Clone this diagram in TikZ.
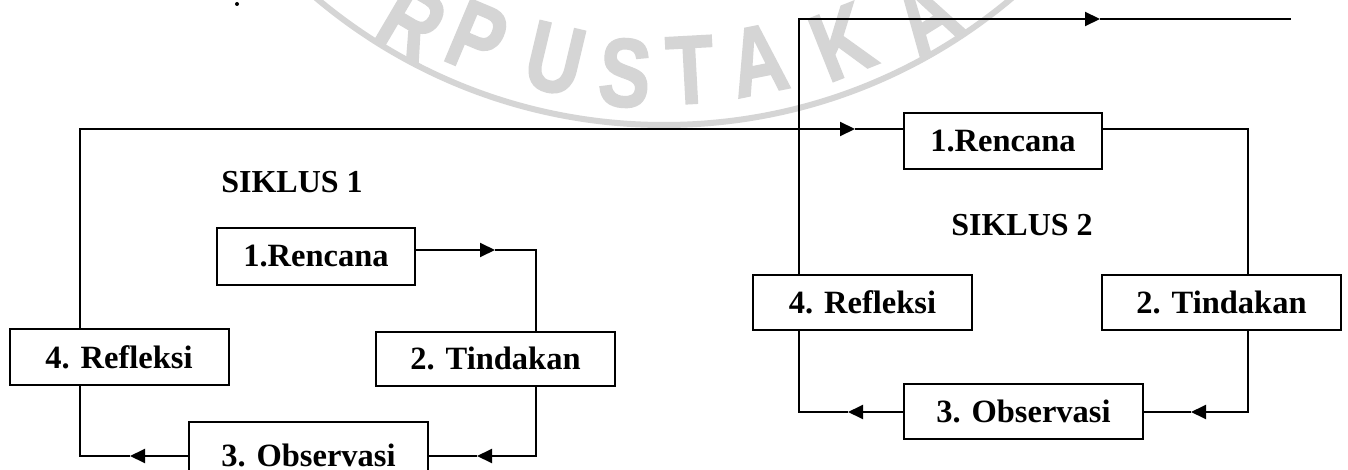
\documentclass[tikz,border=0pt]{standalone}
\usepackage{fontspec}
\setmainfont{Liberation Serif}
\newfontfamily\wmfont{Liberation Sans}[BoldFeatures={FakeBold=2}]
\usetikzlibrary{arrows.meta}
\definecolor{wmgray}{RGB}{213,213,213}
\begin{document}
\begin{tikzpicture}[x=1pt,y=-1pt,
  box/.style={draw, line width=2pt, inner sep=0pt, font=\fontsize{32.5}{36}\selectfont\bfseries},
  conn/.style={line width=2pt},
  arr/.style={line width=2pt, -{Triangle[length=15pt,width=14pt]}},
  lbl/.style={font=\fontsize{32}{36}\selectfont\bfseries, inner sep=0pt},
  wm/.style={text=wmgray, font=\wmfont\bfseries\fontsize{97}{100}\selectfont, inner sep=0pt}]
\clip (0,0) rectangle (1348,470);
\fill[white] (0,0) rectangle (1348,470);
% watermark stamp
\draw[wmgray, line width=6pt] (664,-415) circle[radius=540pt];
\node[wm, rotate=-30.5] (wR) at (412,22) {\scalebox{0.8}[1]{R}};
\node[wm, rotate=-22.8] (wP) at (477,38) {\scalebox{0.8}[1]{P}};
\node[wm, rotate=-13.4] (wU) at (555,59) {\scalebox{0.8}[1]{U}};
\node[wm, rotate=-4.6] (wS) at (625,73) {\scalebox{0.8}[1]{S}};
\node[wm, rotate=3.1] (wT) at (690,70) {\scalebox{0.8}[1]{T}};
\node[wm, rotate=11.4] (wA) at (758,60) {\scalebox{0.8}[1]{A}};
\node[wm, rotate=21.7] (wK) at (842,42) {\scalebox{0.8}[1]{K}};
\node[wm, rotate=31.9] (wA2) at (925,15) {\scalebox{0.8}[1]{A}};
% dot
\node[circle, fill, inner sep=0pt, minimum size=4pt] (dot) at (237,4) {};
% siklus 1
\node[box, minimum width=198pt, minimum height=57pt] (R1) at (316,256.5) {1.Rencana};
\node[box, minimum width=239pt, minimum height=54pt] (T1) at (495.5,358.5) {2. Tindakan};
\node[box, minimum width=219pt, minimum height=56pt] (F1) at (119,357) {4. Refleksi};
\node[box, minimum width=239pt, minimum height=66pt] (O1) at (308.5,455) {3. Observasi};
\node[lbl] (S1) at (292,182.5) {SIKLUS 1};
% siklus 2
\node[box, minimum width=198pt, minimum height=56pt] (R2) at (1003,141) {1.Rencana};
\node[box, minimum width=239pt, minimum height=55pt] (T2) at (1221.5,302) {2. Tindakan};
\node[box, minimum width=219pt, minimum height=55pt] (F2) at (862.5,302) {4. Refleksi};
\node[box, minimum width=239pt, minimum height=55pt] (O2) at (1023.5,411.5) {3. Observasi};
\node[lbl] (S2) at (1022,225.5) {SIKLUS 2};
% helper coordinates
\coordinate (h250) at (0,250);
\coordinate (h129) at (0,129);
\coordinate (h456) at (0,456);
\coordinate (h412) at (0,412);
\coordinate (v536) at (536,0);
\coordinate (v80) at (80,0);
\coordinate (v1248) at (1248,0);
\coordinate (v799) at (799,0);
\coordinate (a1) at (495,250);
\coordinate (a2) at (477,456);
\coordinate (a3) at (130,456);
\coordinate (a4) at (855,129);
\coordinate (a6) at (1191,412);
\coordinate (a7) at (848,412);
\coordinate (a8) at (1100,19);
\coordinate (end8) at (1291,19);
% connectors siklus 1
\draw[arr] (R1.east |- h250) -- (a1);
\draw[conn] (a1) -| (T1.north -| v536);
\draw[arr] (T1.south -| v536) |- (a2);
\draw[conn] (a2) -- (O1.east |- h456);
\draw[arr] (O1.west |- h456) -- (a3);
\draw[conn] (a3) -| (F1.south -| v80);
\draw[arr] (F1.north -| v80) |- (a4);
\draw[conn] (a4) -- (R2.west |- h129);
% connectors siklus 2
\draw[conn] (R2.east |- h129) -| (T2.north -| v1248);
\draw[arr] (T2.south -| v1248) |- (a6);
\draw[conn] (a6) -- (O2.east |- h412);
\draw[arr] (O2.west |- h412) -- (a7);
\draw[conn] (a7) -| (F2.south -| v799);
\draw[arr] (F2.north -| v799) |- (a8);
\draw[conn] (a8) -- (end8);
\end{tikzpicture}
\end{document}
